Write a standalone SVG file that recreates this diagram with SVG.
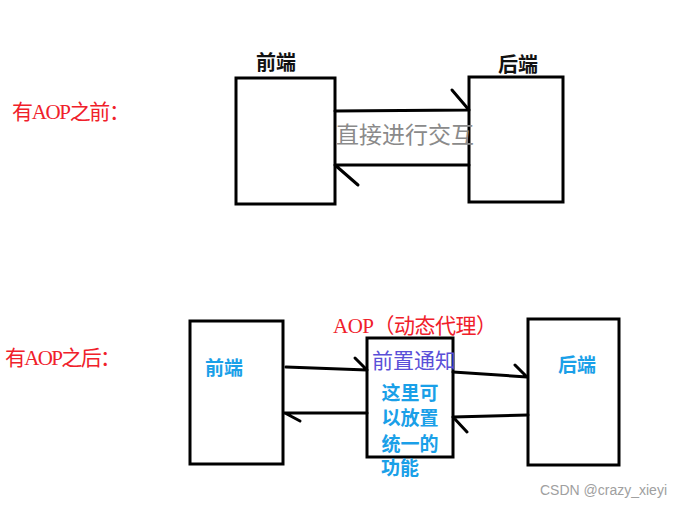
<svg xmlns="http://www.w3.org/2000/svg" width="692" height="508" viewBox="0 0 692 508">
<style>
.box{fill:#fff;stroke:#000;stroke-width:3}
.ln{stroke:#000;stroke-width:3;fill:none;stroke-linecap:round}
.cj{font-family:"Liberation Serif","Noto Sans CJK SC",serif}
.red{fill:#f0202a}
.blk{fill:#111;font-weight:bold}
.blue{fill:#1aa0e8;font-weight:bold}
.pur{fill:#5a4fd8}
.gray{fill:#8a8a8a}
</style>
<rect width="692" height="508" fill="#fff"/>
<g id="label-before"><text class="cj red" x="12" y="119" font-size="21" textLength="118">有AOP之前：</text></g>
<g id="label-after"><text class="cj red" x="5" y="365" font-size="21" textLength="116">有AOP之后：</text></g>
<g id="front-top">
<rect class="box" x="236" y="78" width="99" height="126"/>
<text class="cj blk" x="276" y="70" font-size="20" text-anchor="middle">前端</text>
</g>
<g id="back-top">
<rect class="box" x="469" y="77" width="94" height="125"/>
<text class="cj blk" x="518" y="72" font-size="20" text-anchor="middle">后端</text>
</g>
<g id="front-bottom">
<rect class="box" x="190" y="321" width="93" height="143"/>
<text class="cj blue" x="224" y="375" font-size="19" text-anchor="middle">前端</text>
</g>
<g id="aop">
<rect class="box" x="367" y="338" width="86" height="119"/>
<text class="cj red" x="333" y="333" font-size="21" textLength="164">AOP（动态代理）</text>
<text class="cj pur" x="414" y="368" font-size="21" text-anchor="middle">前置通知</text>
<text class="cj blue" x="410" y="400" font-size="19" text-anchor="middle">这里可</text>
<text class="cj blue" x="410" y="425" font-size="19" text-anchor="middle">以放置</text>
<text class="cj blue" x="410" y="451" font-size="19" text-anchor="middle">统一的</text>
<text class="cj blue" x="400" y="475" font-size="19" text-anchor="middle">功能</text>
</g>
<g id="back-bottom">
<rect class="box" x="528" y="319" width="91" height="146"/>
<text class="cj blue" x="577" y="372" font-size="19" text-anchor="middle">后端</text>
</g>
<g id="connectors">
<path class="ln" d="M335 111 L469 110 M452 90 L469 110"/>
<path class="ln" d="M469 165 L335 165 M335 165 L358 185"/>
<path class="ln" d="M286 367 L367 370 M355 358 L367 370"/>
<path class="ln" d="M367 413 L284 413 M285 413 L300 421"/>
<path class="ln" d="M453 372 L527 377 M515 365 L527 377"/>
<path class="ln" d="M528 415 L453 417 M453 417 L467 432"/>
</g>
<g id="text-direct"><text class="cj gray" x="336" y="143" font-size="23">直接进行交互</text></g>
<text x="540" y="495" font-family="Liberation Sans, sans-serif" font-size="14" fill="#a0a0a0">CSDN @crazy_xieyi</text>
</svg>
